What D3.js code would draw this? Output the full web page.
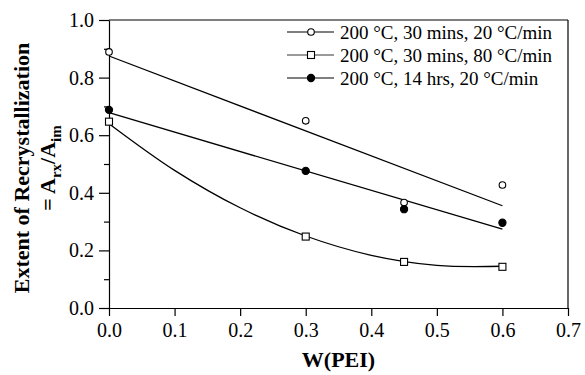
<!DOCTYPE html>
<html><head><meta charset="utf-8">
<script src="https://cdn.jsdelivr.net/npm/d3@7"></script>
<style>body{margin:0;background:#fff}svg{display:block}</style>
</head><body>
<script>
const seriesNames = ["200 °C, 30 mins, 20 °C/min","200 °C, 30 mins, 80 °C/min","200 °C, 14 hrs, 20 °C/min"];
const xValues = [0, 0.3, 0.45, 0.6];
const s1Values = [0.889, 0.65, 0.366, 0.427];
const s2Values = [0.647, 0.248, 0.16, 0.143];
const s3Values = [0.688, 0.476, 0.343, 0.296];
const fit1 = [[0, 0.875], [0.6, 0.355]];
const fit2 = [[0, 0.64], [0.1, 0.478], [0.2, 0.348], [0.3, 0.25], [0.4, 0.183], [0.5, 0.148], [0.6, 0.145]];
const fit3 = [[0, 0.678], [0.6, 0.274]];
const xTicks = [0, 0.1, 0.2, 0.3, 0.4, 0.5, 0.6, 0.7];
const yTicks = [0, 0.2, 0.4, 0.6, 0.8, 1.0];
const yMinor = [0.1, 0.3, 0.5, 0.7, 0.9];

const W = 585, H = 375;
const m = {l:109, r:17, t:20, b:67};
const svg = d3.select("body").append("svg").attr("width", W).attr("height", H);
const x = d3.scaleLinear().domain([0, 0.7]).range([m.l, W - m.r]);
const y = d3.scaleLinear().domain([0, 1]).range([H - m.b, m.t]);
const serif = "'Liberation Serif','DejaVu Serif',serif";

// frame
svg.append("line").attr("x1", x(0)).attr("x2", x(0.7)).attr("y1", y(1)).attr("y2", y(1)).attr("stroke","#000").attr("stroke-width",1.2);
svg.append("line").attr("x1", x(0.7)).attr("x2", x(0.7)).attr("y1", y(1)).attr("y2", y(0)).attr("stroke","#000").attr("stroke-width",1.2);

const gx = svg.append("g").attr("transform", `translate(0,${y(0)})`)
  .call(d3.axisBottom(x).tickValues(xTicks).tickFormat(d3.format(".1f")).tickSize(8).tickSizeOuter(0).tickPadding(7));
const gy = svg.append("g").attr("transform", `translate(${x(0)},0)`)
  .call(d3.axisLeft(y).tickValues(yTicks).tickFormat(d3.format(".1f")).tickSize(10).tickSizeOuter(0).tickPadding(5));
svg.append("g").attr("transform", `translate(${x(0)},0)`)
  .call(d3.axisLeft(y).tickValues(yMinor).tickFormat("").tickSize(5).tickSizeOuter(0))
  .select(".domain").remove();
svg.selectAll(".domain, .tick line").attr("stroke","#000").attr("stroke-width",1.2);
[gx, gy].forEach(g => g.attr("font-family", serif).selectAll("text").attr("font-family", serif).attr("font-size", 20).attr("fill","#000"));

// fits
const line = d3.line().x(d => x(d[0])).y(d => y(d[1]));
const curve = d3.line().x(d => x(d[0])).y(d => y(d[1])).curve(d3.curveCatmullRom);
svg.append("path").attr("d", line(fit1)).attr("fill","none").attr("stroke","#000").attr("stroke-width",1.3);
svg.append("path").attr("d", curve(fit2)).attr("fill","none").attr("stroke","#000").attr("stroke-width",1.3);
svg.append("path").attr("d", line(fit3)).attr("fill","none").attr("stroke","#000").attr("stroke-width",1.3);

function circ(g, cx, cy, filled) {
  g.append("circle").attr("cx", cx).attr("cy", cy).attr("r", filled ? 3.6 : 3.3)
    .attr("fill", filled ? "#000" : "#fff").attr("stroke","#000").attr("stroke-width",1.1);
}
function sq(g, cx, cy) {
  g.append("rect").attr("x", cx - 3.5).attr("y", cy - 3.5).attr("width", 7).attr("height", 7)
    .attr("fill","#fff").attr("stroke","#000").attr("stroke-width",1.1);
}
const pts = svg.append("g");
xValues.forEach((xv, i) => {
  sq(pts, x(xv), y(s2Values[i]));
  circ(pts, x(xv), y(s1Values[i]), false);
  circ(pts, x(xv), y(s3Values[i]), true);
});

// legend
const lg = svg.append("g");
const rowsY = [32, 55, 78];
seriesNames.forEach((name, i) => {
  const yy = rowsY[i];
  lg.append("line").attr("x1", 287).attr("x2", 334).attr("y1", yy).attr("y2", yy)
    .attr("stroke","#000").attr("stroke-width", i === 1 ? 0.8 : 1.2);
  if (i === 0) circ(lg, 311, yy, false);
  if (i === 1) sq(lg, 311, yy);
  if (i === 2) circ(lg, 311, yy, true);
  lg.append("text").attr("x", 340).attr("y", yy).attr("dy", "0.35em")
    .attr("font-family", serif).attr("font-size", 19).text(name);
});

// axis titles
svg.append("text").attr("x", x(0.35)).attr("y", 367).attr("text-anchor","middle")
  .attr("font-family", serif).attr("font-weight","bold").attr("font-size", 22).text("W(PEI)");
const yl = svg.append("g").attr("transform", `translate(0,168) rotate(-90)`);
yl.append("text").attr("x", 0).attr("y", 29).attr("text-anchor","middle")
  .attr("font-family", serif).attr("font-weight","bold").attr("font-size", 22).text("Extent of Recrystallization");
const t2 = yl.append("text").attr("x", 0).attr("y", 55).attr("text-anchor","middle")
  .attr("font-family", serif).attr("font-weight","bold").attr("font-size", 22);
t2.append("tspan").text("= A");
t2.append("tspan").attr("font-size", 15).attr("dy", 6).text("rx");
t2.append("tspan").attr("dy", -6).text("/A");
t2.append("tspan").attr("font-size", 15).attr("dy", 6).text("im");
</script>
</body></html>
